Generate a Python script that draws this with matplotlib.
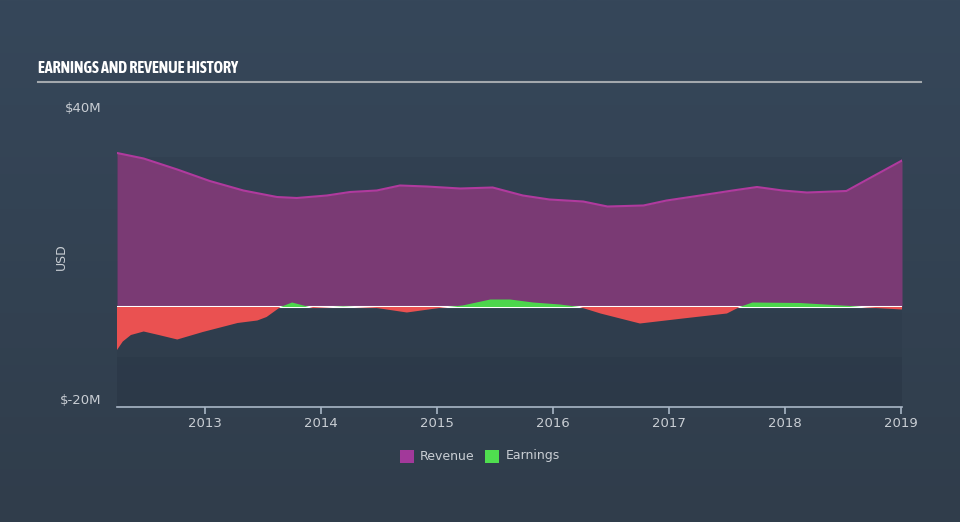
import numpy as np
import matplotlib
matplotlib.use('Agg')
import matplotlib.pyplot as plt
from matplotlib.patches import Rectangle
from matplotlib.colors import LinearSegmentedColormap
from matplotlib import font_manager

# revenue (USD millions), dates as decimal years
rev_dates = [2012.24, 2012.47, 2012.76, 2013.04, 2013.33, 2013.62, 2013.79, 2014.05,
             2014.25, 2014.48, 2014.68, 2014.91, 2015.20, 2015.48, 2015.74, 2015.97,
             2016.26, 2016.47, 2016.78, 2016.98, 2017.27, 2017.55, 2017.76, 2017.98,
             2018.19, 2018.53, 2018.71, 2019.01]
revenue = [30.8, 29.7, 27.5, 25.2, 23.3, 22.0, 21.8, 22.3,
           23.0, 23.3, 24.3, 24.1, 23.7, 23.9, 22.3, 21.5,
           21.1, 20.1, 20.3, 21.3, 22.3, 23.3, 24.0, 23.3,
           22.9, 23.2, 25.5, 29.3]

# earnings (USD millions)
earn_dates = [2012.24, 2012.29, 2012.36, 2012.47, 2012.60, 2012.76, 2012.98, 2013.28,
              2013.45, 2013.53, 2013.65, 2013.75, 2013.93, 2014.19, 2014.48, 2014.74,
              2015.05, 2015.22, 2015.46, 2015.63, 2015.83, 2016.06, 2016.23, 2016.41,
              2016.75, 2017.12, 2017.50, 2017.61, 2017.72, 2018.13, 2018.56, 2018.71,
              2019.01]
earnings = [-8.6, -6.9, -5.6, -4.9, -5.6, -6.5, -5.0, -3.2,
            -2.7, -2.0, 0.0, 0.9, -0.2, 0.1, -0.2, -1.1,
            -0.1, 0.3, 1.5, 1.5, 0.9, 0.5, 0.0, -1.3,
            -3.3, -2.3, -1.3, 0.0, 0.9, 0.8, 0.2, -0.1,
            -0.5]

years = [2013, 2014, 2015, 2016, 2017, 2018, 2019]

bg = '#344454'
text_col = '#c9ced4'

# pick a narrow font for the title if one is installed
narrow = None
for f in font_manager.fontManager.ttflist:
    if ('Narrow' in f.name or 'Condensed' in f.name) and f.weight in ('bold', 700):
        narrow = f.name
        break
if narrow is None:
    for f in font_manager.fontManager.ttflist:
        if f.stretch in ('condensed', 'semi-condensed') or 'Condensed' in f.name or 'Narrow' in f.name:
            narrow = f.name
            break

fig = plt.figure(figsize=(9.6, 5.22), dpi=100)
fig.patch.set_facecolor(bg)

# subtle background gradient
bgax = fig.add_axes([0, 0, 1, 1], zorder=-10)
grad = np.linspace(0, 1, 256).reshape(-1, 1)
cmap = LinearSegmentedColormap.from_list('bg', ['#36475a', '#303d4b'])
bgax.imshow(grad, aspect='auto', cmap=cmap, extent=[0, 1, 0, 1])
bgax.axis('off')

ax = fig.add_axes([117/960, 115/522, 785/960, 300/522])
ax.set_facecolor('none')

ax.axhspan(-10, 30, color='#1e2a36', alpha=0.10, lw=0, zorder=0)
ax.axhspan(-20, -10, color='#1e2a36', alpha=0.24, lw=0, zorder=0)

ax.fill_between(rev_dates, revenue, 0, color='#7a3a74', lw=0, zorder=2)
ax.plot(rev_dates, revenue, color='#b03a9e', lw=1.5, zorder=3)

ax.axhline(0, color='white', lw=1.5, zorder=2.5)

e = np.array(earnings)
ax.fill_between(earn_dates, e, 0, where=e >= 0, interpolate=True,
                color='#4cd64c', lw=0, zorder=4)
ax.fill_between(earn_dates, e, 0, where=e <= 0, interpolate=True,
                color='#ea5151', lw=0, zorder=4)

ax.set_xlim(2012.24, 2019.01)
ax.set_ylim(-20, 40)

for s in ['top', 'right', 'left']:
    ax.spines[s].set_visible(False)
ax.spines['bottom'].set_color('#a9b6c6')
ax.spines['bottom'].set_linewidth(1.2)
ax.spines['bottom'].set_zorder(5)

ax.set_xticks(years)
ax.set_xticklabels([str(y) for y in years])
ax.tick_params(axis='x', colors='#a9b6c6', length=5, width=1.2, labelcolor=text_col,
               labelsize=9.5, pad=2)
ax.set_yticks([40, -20])
ax.set_yticklabels(['$40M', '$-20M'])
ax.tick_params(axis='y', length=0, pad=11, labelcolor=text_col, labelsize=9.5)
ax.get_yticklabels()[1].set_va('bottom')
ax.set_ylabel('USD', color=text_col, fontsize=9)
ax.yaxis.set_label_coords(-0.063, 0.5)

# title and underline
if narrow:
    fig.text(38/960, 1 - 68/522, 'EARNINGS AND REVENUE HISTORY', color='white',
             fontsize=11.5, fontweight='bold', va='center', ha='left',
             family=[narrow, 'DejaVu Sans'])
else:
    fig.text(38/960, 1 - 68/522, 'EARNINGS AND REVENUE HISTORY', color='white',
             fontsize=9.5, fontweight='bold', va='center', ha='left')
fig.add_artist(plt.Line2D([38/960, 921/960], [1 - 82/522, 1 - 82/522],
                          color='#a3a8ad', lw=1.5))

# legend
fig.add_artist(Rectangle((400/960, 1 - 463/522), 14/960, 13/522,
                         color='#a2399a', lw=0))
fig.text(420/960, 1 - 456/522, 'Revenue', color=text_col, fontsize=9, va='center')
fig.add_artist(Rectangle((485/960, 1 - 463/522), 14/960, 13/522,
                         color='#4fde4f', lw=0))
fig.text(506/960, 1 - 456/522, 'Earnings', color=text_col, fontsize=9, va='center')

fig.savefig('out.png', dpi=100, facecolor=bg)
plt.close(fig)
